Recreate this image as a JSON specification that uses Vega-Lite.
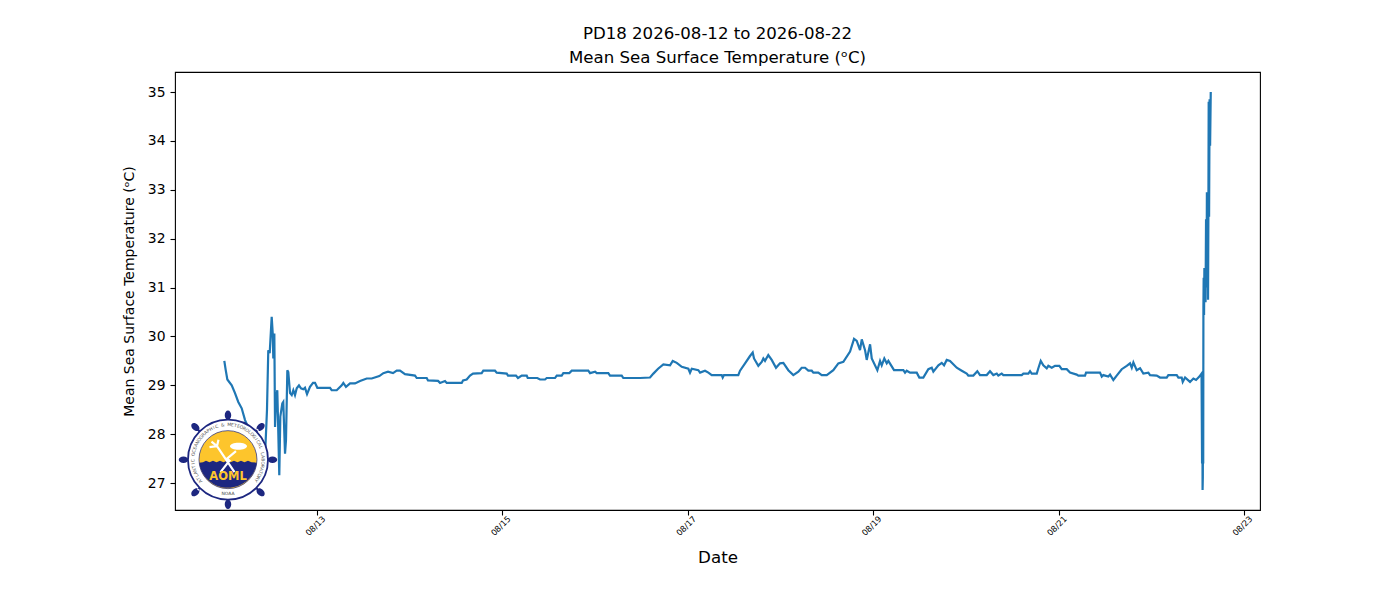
{
  "$schema": "https://vega.github.io/schema/vega-lite/v6.json",
  "width": 1085,
  "height": 438,
  "autosize": "none",
  "padding": {"left": 175, "top": 72, "right": 140, "bottom": 90},
  "background": "white",
  "title": {
    "text": ["PD18 2026-08-12 to 2026-08-22", "Mean Sea Surface Temperature (ᵒC)"],
    "font": "DejaVu Sans",
    "fontSize": 16.6,
    "fontWeight": "normal",
    "color": "black",
    "anchor": "middle",
    "lineHeight": 24,
    "offset": 5
  },
  "config": {
    "view": {"stroke": "black", "strokeWidth": 1.1},
    "axis": {
      "grid": false,
      "domain": false,
      "tickColor": "black",
      "tickSize": 5,
      "tickWidth": 1.1,
      "labelColor": "black",
      "labelFont": "DejaVu Sans",
      "titleFont": "DejaVu Sans",
      "titleColor": "black",
      "titleFontWeight": "normal"
    }
  },
  "datasets": {
    "sst": [
      {"t":"2026-08-12T00:00Z","sst":29.5},{"t":"2026-08-12T00:22Z","sst":29.31},{"t":"2026-08-12T00:47Z","sst":29.12},{"t":"2026-08-12T01:55Z","sst":29.0},{"t":"2026-08-12T02:46Z","sst":28.84},{"t":"2026-08-12T03:37Z","sst":28.66},{"t":"2026-08-12T04:30Z","sst":28.53},{"t":"2026-08-12T05:22Z","sst":28.29},{"t":"2026-08-12T06:39Z","sst":28.05},{"t":"2026-08-12T07:57Z","sst":27.8},{"t":"2026-08-12T09:15Z","sst":27.5},{"t":"2026-08-12T10:01Z","sst":27.3},{"t":"2026-08-12T10:32Z","sst":27.54},{"t":"2026-08-12T11:03Z","sst":28.5},{"t":"2026-08-12T11:23Z","sst":29.72},{"t":"2026-08-12T11:45Z","sst":29.66},{"t":"2026-08-12T12:16Z","sst":30.4},{"t":"2026-08-12T12:32Z","sst":30.06},{"t":"2026-08-12T12:41Z","sst":29.55},{"t":"2026-08-12T12:57Z","sst":30.06},{"t":"2026-08-12T13:08Z","sst":28.15},{"t":"2026-08-12T13:23Z","sst":28.7},{"t":"2026-08-12T13:43Z","sst":28.9},{"t":"2026-08-12T13:54Z","sst":28.3},{"t":"2026-08-12T14:14Z","sst":27.16},{"t":"2026-08-12T14:30Z","sst":28.36},{"t":"2026-08-12T15:01Z","sst":28.63},{"t":"2026-08-12T15:16Z","sst":28.66},{"t":"2026-08-12T15:43Z","sst":27.6},{"t":"2026-08-12T15:58Z","sst":27.88},{"t":"2026-08-12T16:19Z","sst":29.31},{"t":"2026-08-12T16:34Z","sst":29.27},{"t":"2026-08-12T17:01Z","sst":28.84},{"t":"2026-08-12T17:27Z","sst":28.8},{"t":"2026-08-12T17:52Z","sst":28.9},{"t":"2026-08-12T18:18Z","sst":28.8},{"t":"2026-08-12T18:45Z","sst":28.94},{"t":"2026-08-12T19:20Z","sst":29.0},{"t":"2026-08-12T19:51Z","sst":28.94},{"t":"2026-08-12T20:27Z","sst":28.92},{"t":"2026-08-12T20:53Z","sst":28.95},{"t":"2026-08-12T21:25Z","sst":28.82},{"t":"2026-08-12T22:11Z","sst":28.97},{"t":"2026-08-12T22:58Z","sst":29.05},{"t":"2026-08-12T23:29Z","sst":29.05},
      {"t":"2026-08-13T00:05Z","sst":28.95},{"t":"2026-08-13T03:22Z","sst":28.95},{"t":"2026-08-13T03:48Z","sst":28.9},{"t":"2026-08-13T05:06Z","sst":28.9},{"t":"2026-08-13T06:24Z","sst":29.0},{"t":"2026-08-13T06:49Z","sst":29.05},{"t":"2026-08-13T07:30Z","sst":28.97},{"t":"2026-08-13T08:33Z","sst":29.04},{"t":"2026-08-13T09:50Z","sst":29.04},{"t":"2026-08-13T11:08Z","sst":29.09},{"t":"2026-08-13T12:52Z","sst":29.14},{"t":"2026-08-13T14:10Z","sst":29.14},{"t":"2026-08-13T16:08Z","sst":29.19},{"t":"2026-08-13T17:10Z","sst":29.25},{"t":"2026-08-13T18:23Z","sst":29.28},{"t":"2026-08-13T19:41Z","sst":29.25},{"t":"2026-08-13T20:38Z","sst":29.3},{"t":"2026-08-13T21:29Z","sst":29.3},{"t":"2026-08-13T22:47Z","sst":29.23},
      {"t":"2026-08-14T01:22Z","sst":29.2},{"t":"2026-08-14T01:49Z","sst":29.15},{"t":"2026-08-14T04:24Z","sst":29.15},{"t":"2026-08-14T04:44Z","sst":29.1},{"t":"2026-08-14T07:20Z","sst":29.09},{"t":"2026-08-14T07:51Z","sst":29.05},{"t":"2026-08-14T09:08Z","sst":29.09},{"t":"2026-08-14T09:35Z","sst":29.05},{"t":"2026-08-14T13:28Z","sst":29.05},{"t":"2026-08-14T13:48Z","sst":29.1},{"t":"2026-08-14T14:45Z","sst":29.12},{"t":"2026-08-14T15:37Z","sst":29.2},{"t":"2026-08-14T16:23Z","sst":29.24},{"t":"2026-08-14T18:38Z","sst":29.25},{"t":"2026-08-14T19:03Z","sst":29.3},{"t":"2026-08-14T22:05Z","sst":29.3},{"t":"2026-08-14T22:31Z","sst":29.26},
      {"t":"2026-08-15T01:07Z","sst":29.24},{"t":"2026-08-15T01:27Z","sst":29.2},{"t":"2026-08-15T03:31Z","sst":29.2},{"t":"2026-08-15T04:02Z","sst":29.15},{"t":"2026-08-15T05:00Z","sst":29.2},{"t":"2026-08-15T06:17Z","sst":29.2},{"t":"2026-08-15T06:33Z","sst":29.15},{"t":"2026-08-15T09:02Z","sst":29.15},{"t":"2026-08-15T09:44Z","sst":29.12},{"t":"2026-08-15T11:02Z","sst":29.12},{"t":"2026-08-15T11:28Z","sst":29.15},{"t":"2026-08-15T13:37Z","sst":29.15},{"t":"2026-08-15T14:04Z","sst":29.2},{"t":"2026-08-15T15:21Z","sst":29.2},{"t":"2026-08-15T15:46Z","sst":29.25},{"t":"2026-08-15T17:19Z","sst":29.25},{"t":"2026-08-15T17:57Z","sst":29.3},{"t":"2026-08-15T22:14Z","sst":29.3},{"t":"2026-08-15T22:41Z","sst":29.25},
      {"t":"2026-08-16T00:00Z","sst":29.28},{"t":"2026-08-16T00:25Z","sst":29.25},{"t":"2026-08-16T03:25Z","sst":29.25},{"t":"2026-08-16T03:51Z","sst":29.2},{"t":"2026-08-16T06:53Z","sst":29.2},{"t":"2026-08-16T07:18Z","sst":29.15},{"t":"2026-08-16T11:38Z","sst":29.15},{"t":"2026-08-16T14:13Z","sst":29.16},{"t":"2026-08-16T15:05Z","sst":29.24},{"t":"2026-08-16T16:18Z","sst":29.34},{"t":"2026-08-16T17:40Z","sst":29.43},{"t":"2026-08-16T19:24Z","sst":29.41},{"t":"2026-08-16T20:06Z","sst":29.5},{"t":"2026-08-16T21:08Z","sst":29.46},{"t":"2026-08-16T22:26Z","sst":29.38},
      {"t":"2026-08-17T00:08Z","sst":29.34},{"t":"2026-08-17T00:34Z","sst":29.26},{"t":"2026-08-17T01:01Z","sst":29.34},{"t":"2026-08-17T02:43Z","sst":29.31},{"t":"2026-08-17T03:10Z","sst":29.26},{"t":"2026-08-17T04:27Z","sst":29.3},{"t":"2026-08-17T05:19Z","sst":29.26},{"t":"2026-08-17T06:11Z","sst":29.21},{"t":"2026-08-17T08:47Z","sst":29.21},{"t":"2026-08-17T09:02Z","sst":29.16},{"t":"2026-08-17T09:22Z","sst":29.21},{"t":"2026-08-17T13:04Z","sst":29.21},{"t":"2026-08-17T13:31Z","sst":29.3},{"t":"2026-08-17T14:49Z","sst":29.45},{"t":"2026-08-17T16:06Z","sst":29.6},{"t":"2026-08-17T16:48Z","sst":29.67},{"t":"2026-08-17T17:08Z","sst":29.55},{"t":"2026-08-17T18:15Z","sst":29.4},{"t":"2026-08-17T19:08Z","sst":29.48},{"t":"2026-08-17T19:33Z","sst":29.55},{"t":"2026-08-17T19:59Z","sst":29.5},{"t":"2026-08-17T20:50Z","sst":29.62},{"t":"2026-08-17T21:43Z","sst":29.52},{"t":"2026-08-17T22:50Z","sst":29.36},{"t":"2026-08-17T23:52Z","sst":29.45},
      {"t":"2026-08-18T00:44Z","sst":29.46},{"t":"2026-08-18T02:01Z","sst":29.31},{"t":"2026-08-18T03:19Z","sst":29.21},{"t":"2026-08-18T04:37Z","sst":29.28},{"t":"2026-08-18T05:29Z","sst":29.36},{"t":"2026-08-18T06:21Z","sst":29.36},{"t":"2026-08-18T07:12Z","sst":29.3},{"t":"2026-08-18T08:05Z","sst":29.3},{"t":"2026-08-18T08:30Z","sst":29.26},{"t":"2026-08-18T09:47Z","sst":29.26},{"t":"2026-08-18T10:40Z","sst":29.21},{"t":"2026-08-18T11:58Z","sst":29.21},{"t":"2026-08-18T13:40Z","sst":29.31},{"t":"2026-08-18T14:58Z","sst":29.45},{"t":"2026-08-18T16:16Z","sst":29.48},{"t":"2026-08-18T18:00Z","sst":29.69},{"t":"2026-08-18T19:02Z","sst":29.95},{"t":"2026-08-18T19:44Z","sst":29.91},{"t":"2026-08-18T20:35Z","sst":29.72},{"t":"2026-08-18T21:02Z","sst":29.94},{"t":"2026-08-18T21:53Z","sst":29.72},{"t":"2026-08-18T22:19Z","sst":29.52},{"t":"2026-08-18T23:11Z","sst":29.84},{"t":"2026-08-18T23:37Z","sst":29.55},
      {"t":"2026-08-19T01:04Z","sst":29.31},{"t":"2026-08-19T01:46Z","sst":29.5},{"t":"2026-08-19T02:12Z","sst":29.41},{"t":"2026-08-19T02:52Z","sst":29.55},{"t":"2026-08-19T03:30Z","sst":29.45},{"t":"2026-08-19T03:55Z","sst":29.5},{"t":"2026-08-19T05:23Z","sst":29.31},{"t":"2026-08-19T07:48Z","sst":29.31},{"t":"2026-08-19T08:14Z","sst":29.26},{"t":"2026-08-19T08:40Z","sst":29.3},{"t":"2026-08-19T09:32Z","sst":29.26},{"t":"2026-08-19T11:16Z","sst":29.26},{"t":"2026-08-19T11:56Z","sst":29.16},{"t":"2026-08-19T12:58Z","sst":29.16},{"t":"2026-08-19T14:16Z","sst":29.33},{"t":"2026-08-19T15:09Z","sst":29.36},{"t":"2026-08-19T15:34Z","sst":29.28},{"t":"2026-08-19T16:52Z","sst":29.41},{"t":"2026-08-19T17:44Z","sst":29.46},{"t":"2026-08-19T18:20Z","sst":29.41},{"t":"2026-08-19T19:02Z","sst":29.52},{"t":"2026-08-19T19:53Z","sst":29.5},{"t":"2026-08-19T21:37Z","sst":29.36},{"t":"2026-08-19T22:55Z","sst":29.3},
      {"t":"2026-08-20T00:12Z","sst":29.24},{"t":"2026-08-20T00:37Z","sst":29.2},{"t":"2026-08-20T01:55Z","sst":29.2},{"t":"2026-08-20T02:57Z","sst":29.29},{"t":"2026-08-20T03:39Z","sst":29.21},{"t":"2026-08-20T05:23Z","sst":29.21},{"t":"2026-08-20T06:14Z","sst":29.29},{"t":"2026-08-20T07:06Z","sst":29.21},{"t":"2026-08-20T07:59Z","sst":29.24},{"t":"2026-08-20T08:23Z","sst":29.2},{"t":"2026-08-20T09:16Z","sst":29.24},{"t":"2026-08-20T09:41Z","sst":29.21},{"t":"2026-08-20T14:27Z","sst":29.21},{"t":"2026-08-20T14:52Z","sst":29.24},{"t":"2026-08-20T16:10Z","sst":29.24},{"t":"2026-08-20T16:36Z","sst":29.29},{"t":"2026-08-20T17:02Z","sst":29.24},{"t":"2026-08-20T18:20Z","sst":29.24},{"t":"2026-08-20T18:45Z","sst":29.35},{"t":"2026-08-20T19:22Z","sst":29.5},{"t":"2026-08-20T20:02Z","sst":29.41},{"t":"2026-08-20T20:55Z","sst":29.35},{"t":"2026-08-20T21:20Z","sst":29.4},{"t":"2026-08-20T22:13Z","sst":29.36},{"t":"2026-08-20T23:04Z","sst":29.4},
      {"t":"2026-08-21T00:11Z","sst":29.4},{"t":"2026-08-21T00:48Z","sst":29.33},{"t":"2026-08-21T02:06Z","sst":29.33},{"t":"2026-08-21T02:57Z","sst":29.26},{"t":"2026-08-21T04:41Z","sst":29.22},{"t":"2026-08-21T05:06Z","sst":29.2},{"t":"2026-08-21T06:50Z","sst":29.2},{"t":"2026-08-21T07:06Z","sst":29.26},{"t":"2026-08-21T10:43Z","sst":29.26},{"t":"2026-08-21T11:10Z","sst":29.18},{"t":"2026-08-21T11:34Z","sst":29.21},{"t":"2026-08-21T12:52Z","sst":29.18},{"t":"2026-08-21T13:19Z","sst":29.22},{"t":"2026-08-21T14:10Z","sst":29.11},{"t":"2026-08-21T15:02Z","sst":29.2},{"t":"2026-08-21T16:20Z","sst":29.33},{"t":"2026-08-21T17:38Z","sst":29.4},{"t":"2026-08-21T18:29Z","sst":29.45},{"t":"2026-08-21T18:56Z","sst":29.36},{"t":"2026-08-21T19:21Z","sst":29.47},{"t":"2026-08-21T20:13Z","sst":29.31},{"t":"2026-08-21T21:05Z","sst":29.35},{"t":"2026-08-21T21:56Z","sst":29.24},{"t":"2026-08-21T23:14Z","sst":29.26},{"t":"2026-08-21T23:40Z","sst":29.21},
      {"t":"2026-08-22T01:24Z","sst":29.2},{"t":"2026-08-22T02:15Z","sst":29.16},{"t":"2026-08-22T03:59Z","sst":29.16},{"t":"2026-08-22T04:24Z","sst":29.21},{"t":"2026-08-22T06:35Z","sst":29.21},{"t":"2026-08-22T07:00Z","sst":29.16},{"t":"2026-08-22T07:52Z","sst":29.16},{"t":"2026-08-22T08:08Z","sst":29.07},{"t":"2026-08-22T08:44Z","sst":29.16},{"t":"2026-08-22T10:01Z","sst":29.07},{"t":"2026-08-22T10:53Z","sst":29.14},{"t":"2026-08-22T11:35Z","sst":29.11},{"t":"2026-08-22T12:26Z","sst":29.18},{"t":"2026-08-22T13:00Z","sst":29.24},{"t":"2026-08-22T13:08Z","sst":27.4},{"t":"2026-08-22T13:13Z","sst":28.8},{"t":"2026-08-22T13:16Z","sst":26.86},{"t":"2026-08-22T13:20Z","sst":27.13},{"t":"2026-08-22T13:23Z","sst":29.0},{"t":"2026-08-22T13:26Z","sst":27.4},{"t":"2026-08-22T13:29Z","sst":30.6},{"t":"2026-08-22T13:33Z","sst":31.2},{"t":"2026-08-22T13:39Z","sst":30.44},{"t":"2026-08-22T13:44Z","sst":31.4},{"t":"2026-08-22T13:55Z","sst":30.8},{"t":"2026-08-22T13:59Z","sst":31.3},{"t":"2026-08-22T14:02Z","sst":30.7},{"t":"2026-08-22T14:10Z","sst":32.4},{"t":"2026-08-22T14:18Z","sst":31.0},{"t":"2026-08-22T14:23Z","sst":32.95},{"t":"2026-08-22T14:26Z","sst":31.0},{"t":"2026-08-22T14:34Z","sst":32.9},{"t":"2026-08-22T14:41Z","sst":30.75},{"t":"2026-08-22T14:46Z","sst":32.4},{"t":"2026-08-22T14:51Z","sst":34.8},{"t":"2026-08-22T14:57Z","sst":32.45},{"t":"2026-08-22T15:05Z","sst":34.85},{"t":"2026-08-22T15:13Z","sst":33.9},{"t":"2026-08-22T15:23Z","sst":35.0}
    ],
    "logo": [{"t":"2026-08-12T00:57Z","sst":27.48}],
    "ring": [
      {"t":"2026-08-12T00:57Z","sst":27.48,"ch":"A","deg":232},{"t":"2026-08-12T00:57Z","sst":27.48,"ch":"T","deg":237.2},{"t":"2026-08-12T00:57Z","sst":27.48,"ch":"L","deg":242.4},{"t":"2026-08-12T00:57Z","sst":27.48,"ch":"A","deg":247.6},{"t":"2026-08-12T00:57Z","sst":27.48,"ch":"N","deg":252.8},{"t":"2026-08-12T00:57Z","sst":27.48,"ch":"T","deg":258},{"t":"2026-08-12T00:57Z","sst":27.48,"ch":"I","deg":263.2},{"t":"2026-08-12T00:57Z","sst":27.48,"ch":"C","deg":268.4},
      {"t":"2026-08-12T00:57Z","sst":27.48,"ch":"O","deg":278.8},{"t":"2026-08-12T00:57Z","sst":27.48,"ch":"C","deg":284},{"t":"2026-08-12T00:57Z","sst":27.48,"ch":"E","deg":289.2},{"t":"2026-08-12T00:57Z","sst":27.48,"ch":"A","deg":294.4},{"t":"2026-08-12T00:57Z","sst":27.48,"ch":"N","deg":299.6},{"t":"2026-08-12T00:57Z","sst":27.48,"ch":"O","deg":304.8},{"t":"2026-08-12T00:57Z","sst":27.48,"ch":"G","deg":310},{"t":"2026-08-12T00:57Z","sst":27.48,"ch":"R","deg":315.2},{"t":"2026-08-12T00:57Z","sst":27.48,"ch":"A","deg":320.4},{"t":"2026-08-12T00:57Z","sst":27.48,"ch":"P","deg":325.6},{"t":"2026-08-12T00:57Z","sst":27.48,"ch":"H","deg":330.8},{"t":"2026-08-12T00:57Z","sst":27.48,"ch":"I","deg":336},{"t":"2026-08-12T00:57Z","sst":27.48,"ch":"C","deg":341.2},
      {"t":"2026-08-12T00:57Z","sst":27.48,"ch":"&","deg":351.6},
      {"t":"2026-08-12T00:57Z","sst":27.48,"ch":"M","deg":2},{"t":"2026-08-12T00:57Z","sst":27.48,"ch":"E","deg":7.2},{"t":"2026-08-12T00:57Z","sst":27.48,"ch":"T","deg":12.4},{"t":"2026-08-12T00:57Z","sst":27.48,"ch":"E","deg":17.6},{"t":"2026-08-12T00:57Z","sst":27.48,"ch":"O","deg":22.8},{"t":"2026-08-12T00:57Z","sst":27.48,"ch":"R","deg":28},{"t":"2026-08-12T00:57Z","sst":27.48,"ch":"O","deg":33.2},{"t":"2026-08-12T00:57Z","sst":27.48,"ch":"L","deg":38.4},{"t":"2026-08-12T00:57Z","sst":27.48,"ch":"O","deg":43.6},{"t":"2026-08-12T00:57Z","sst":27.48,"ch":"G","deg":48.8},{"t":"2026-08-12T00:57Z","sst":27.48,"ch":"I","deg":54},{"t":"2026-08-12T00:57Z","sst":27.48,"ch":"C","deg":59.2},{"t":"2026-08-12T00:57Z","sst":27.48,"ch":"A","deg":64.4},{"t":"2026-08-12T00:57Z","sst":27.48,"ch":"L","deg":69.6},
      {"t":"2026-08-12T00:57Z","sst":27.48,"ch":"L","deg":80},{"t":"2026-08-12T00:57Z","sst":27.48,"ch":"A","deg":85.2},{"t":"2026-08-12T00:57Z","sst":27.48,"ch":"B","deg":90.4},{"t":"2026-08-12T00:57Z","sst":27.48,"ch":"O","deg":95.6},{"t":"2026-08-12T00:57Z","sst":27.48,"ch":"R","deg":100.8},{"t":"2026-08-12T00:57Z","sst":27.48,"ch":"A","deg":106},{"t":"2026-08-12T00:57Z","sst":27.48,"ch":"T","deg":111.2},{"t":"2026-08-12T00:57Z","sst":27.48,"ch":"O","deg":116.4},{"t":"2026-08-12T00:57Z","sst":27.48,"ch":"R","deg":121.6},{"t":"2026-08-12T00:57Z","sst":27.48,"ch":"Y","deg":126.8}
    ]
  },
  "encoding": {
    "x": {
      "field": "t",
      "type": "temporal",
      "title": "Date",
      "scale": {
        "type": "utc",
        "domain": [
          {"year": 2026, "month": 8, "date": 11, "hours": 11, "minutes": 14, "utc": true},
          {"year": 2026, "month": 8, "date": 23, "hours": 4, "minutes": 8, "utc": true}
        ]
      },
      "axis": {
        "values": [
          {"year": 2026, "month": 8, "date": 13, "utc": true},
          {"year": 2026, "month": 8, "date": 15, "utc": true},
          {"year": 2026, "month": 8, "date": 17, "utc": true},
          {"year": 2026, "month": 8, "date": 19, "utc": true},
          {"year": 2026, "month": 8, "date": 21, "utc": true},
          {"year": 2026, "month": 8, "date": 23, "utc": true}
        ],
        "labelExpr": "utcFormat(datum.value, '%m/%d')",
        "labelAngle": -45,
        "labelAlign": "center",
        "labelBaseline": "middle",
        "labelFontSize": 8.3,
        "labelPadding": 11,
        "labelOffset": -1.5,
        "labelOverlap": false,
        "titleFontSize": 16.7,
        "titlePadding": 13
      }
    },
    "y": {
      "field": "sst",
      "type": "quantitative",
      "title": "Mean Sea Surface Temperature (ᵒC)",
      "scale": {"domain": [26.45, 35.41], "nice": false, "zero": false},
      "axis": {
        "values": [27, 28, 29, 30, 31, 32, 33, 34, 35],
        "labelFontSize": 13.9,
        "labelPadding": 5,
        "titleFontSize": 14,
        "titlePadding": 11
      }
    }
  },
  "layer": [
    {
      "data": {"name": "sst"},
      "mark": {"type": "line", "color": "#1f77b4", "strokeWidth": 2.2, "clip": true}
    },
    {
      "data": {"name": "logo"},
      "mark": {
        "type": "point", "filled": true, "opacity": 1, "size": 10000, "color": "#1d2780",
        "shape": "M0,-.985 A.065,.095 0 1 1 0,-.795 A.065,.095 0 1 1 0,-.985Z M0,.795 A.065,.095 0 1 1 0,.985 A.065,.095 0 1 1 0,.795Z M.795,0 A.095,.065 0 1 1 .985,0 A.095,.065 0 1 1 .795,0Z M-.985,0 A.095,.065 0 1 1 -.795,0 A.095,.065 0 1 1 -.985,0Z M.72,-.72 A.095,.065 -45 1 1 .585,-.585 A.095,.065 -45 1 1 .72,-.72Z M.72,.72 A.095,.065 45 1 1 .585,.585 A.095,.065 45 1 1 .72,.72Z M-.72,.72 A.095,.065 -45 1 1 -.585,.585 A.095,.065 -45 1 1 -.72,.72Z M-.72,-.72 A.095,.065 45 1 1 -.585,-.585 A.095,.065 45 1 1 -.72,-.72Z M-.02,-.85 L.02,-.85 L.02,-.75 L-.02,-.75Z M-.02,.75 L.02,.75 L.02,.85 L-.02,.85Z M.75,-.02 L.85,-.02 L.85,.02 L.75,.02Z M-.85,-.02 L-.75,-.02 L-.75,.02 L-.85,.02Z M.52,-.55 L.55,-.52 L.62,-.59 L.59,-.62Z M.52,.55 L.55,.52 L.62,.59 L.59,.62Z M-.52,-.55 L-.55,-.52 L-.62,-.59 L-.59,-.62Z M-.52,.55 L-.55,.52 L-.62,.59 L-.59,.62Z"
      }
    },
    {
      "data": {"name": "logo"},
      "mark": {"type": "point", "shape": "circle", "filled": true, "opacity": 1, "size": 6400, "fill": "white", "stroke": "#1d2780", "strokeWidth": 1.8}
    },
    {
      "data": {"name": "logo"},
      "mark": {"type": "point", "shape": "circle", "filled": true, "opacity": 1, "size": 3364, "fill": "#fdc52c", "stroke": "#1d2780", "strokeWidth": 0.7}
    },
    {
      "data": {"name": "logo"},
      "mark": {
        "type": "point", "filled": true, "opacity": 1, "size": 10000, "color": "#1d2780",
        "shape": "M-.575,.06 L-.5,.05 L-.44,.02 L-.37,.05 L-.3,.02 L-.23,.05 L-.16,.02 L-.09,.05 L-.02,.02 L.05,.05 L.12,.02 L.19,.05 L.26,.02 L.33,.05 L.4,.02 L.47,.05 L.575,.06 A.58,.58 0 0 1 -.575,.06Z"
      }
    },
    {
      "data": {"name": "logo"},
      "mark": {
        "type": "point", "filled": false, "opacity": 1, "size": 10000, "stroke": "white", "strokeWidth": 2.2,
        "shape": "M.13,.25 L-.22,-.27 M-.22,-.27 L-.37,-.25 M-.22,-.27 L-.33,-.36 M-.22,-.27 L-.19,-.4 M-.15,.25 L.03,.02 L-.02,-.02 L.16,-.17"
      }
    },
    {
      "data": {"name": "logo"},
      "mark": {
        "type": "point", "filled": true, "opacity": 1, "size": 10000, "color": "white",
        "shape": "M.04,-.27 A.17,.07 0 1 1 .38,-.27 A.17,.07 0 1 1 .04,-.27Z"
      }
    },
    {
      "data": {"name": "logo"},
      "mark": {"type": "text", "text": "AOML", "color": "#fdc52c", "font": "DejaVu Sans", "fontWeight": "bold", "fontSize": 11.5, "yOffset": 17, "align": "center", "baseline": "middle"}
    },
    {
      "data": {"name": "logo"},
      "mark": {"type": "text", "text": "NOAA", "color": "#444444", "font": "DejaVu Sans", "fontSize": 4.5, "yOffset": 34, "align": "center", "baseline": "middle"}
    },
    {
      "data": {"name": "ring"},
      "mark": {"type": "text", "radius": 34.5, "color": "#555555", "font": "DejaVu Sans", "fontSize": 4.5, "align": "center", "baseline": "middle"},
      "encoding": {
        "text": {"field": "ch"},
        "theta": {"field": "deg", "type": "quantitative", "stack": null, "scale": {"domain": [0, 360], "range": [0, 6.28319]}},
        "angle": {"field": "deg", "type": "quantitative", "legend": null, "scale": {"domain": [0, 360], "range": [0, 360]}}
      }
    }
  ]
}
